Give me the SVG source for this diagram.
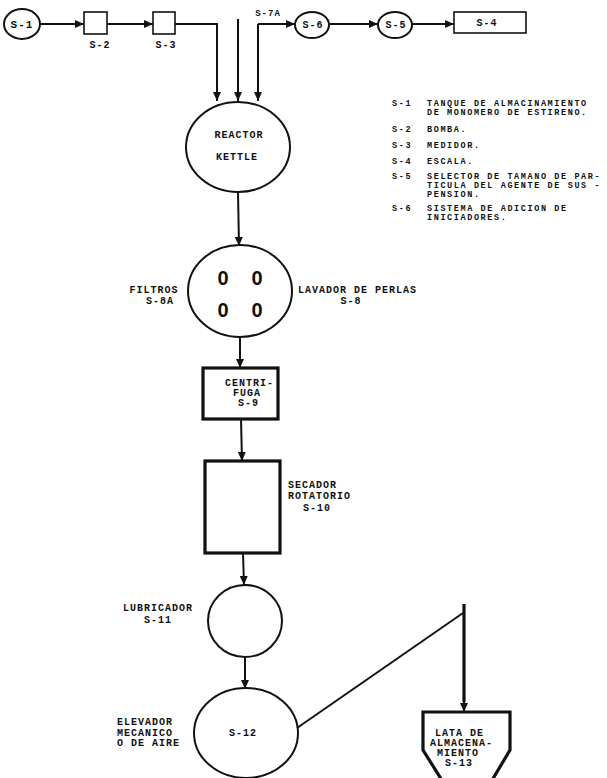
<svg xmlns="http://www.w3.org/2000/svg" width="607" height="778" viewBox="0 0 607 778">
<style>
.t{font-family:"Liberation Mono","DejaVu Sans Mono",monospace;font-weight:bold;font-size:10px;letter-spacing:1px;fill:#111}
.l{font-family:"Liberation Mono","DejaVu Sans Mono",monospace;font-weight:bold;font-size:8.5px;letter-spacing:1.6px;fill:#111}
.m{text-anchor:middle}
.c{fill:none;stroke:#111;stroke-width:2}
.b{fill:none;stroke:#111;stroke-width:1.6}
.k{fill:none;stroke:#111;stroke-width:3.2}
.n{fill:none;stroke:#111;stroke-width:2}
.z{font-family:"Liberation Sans",Arial,sans-serif;font-weight:bold;font-size:20px;fill:#111;text-anchor:middle}
</style>
<defs>
<marker id="a" markerUnits="userSpaceOnUse" markerWidth="10" markerHeight="8" refX="9" refY="4" orient="auto">
<path d="M0,0 L9,4 L0,8 Z" fill="#111"/>
</marker>
</defs>
<rect width="607" height="778" fill="#fff"/>
<g id="connectors">
<path class="n" d="M40,24 L84,24" marker-end="url(#a)"/>
<path class="n" d="M107,24 L153,24" marker-end="url(#a)"/>
<path class="n" d="M175,24 L217,24 L217,101" marker-end="url(#a)"/>
<path class="n" d="M238,19 L238,101" marker-end="url(#a)"/>
<path class="n" d="M258,24 L258,101" marker-end="url(#a)"/>
<path class="n" d="M258,24 L295,24" marker-end="url(#a)"/>
<path class="n" d="M330,24 L378,24" marker-end="url(#a)"/>
<path class="n" d="M412,24 L454,24" marker-end="url(#a)"/>
<path class="n" d="M238,192 L239,246" marker-end="url(#a)"/>
<path class="n" d="M240,337 L240,368" marker-end="url(#a)"/>
<path class="n" d="M241,419 L242,461" marker-end="url(#a)"/>
<path class="n" d="M243,553 L244,585" marker-end="url(#a)"/>
<path class="n" d="M245,656 L245,689" marker-end="url(#a)"/>
<path class="n" d="M297,728 L463,613"/>
<path class="k" d="M464,604 L464,702"/>
<path class="n" d="M464,700 L464,712" marker-end="url(#a)"/>
</g>
<g id="S-1"><ellipse class="c" cx="22" cy="24" rx="18" ry="15"/><text class="t m" x="22" y="28" style="font-size:11px">S-1</text></g>
<g id="S-2"><rect class="b" x="84" y="12" width="23" height="22"/><text class="t m" x="100" y="48">S-2</text></g>
<g id="S-3"><rect class="b" x="153" y="12" width="22" height="22"/><text class="t m" x="166" y="48">S-3</text></g>
<g id="S-7A"><text class="t m" x="268" y="16" style="font-size:9px">S-7A</text></g>
<g id="S-6"><ellipse class="c" cx="312" cy="25" rx="17" ry="13"/><text class="t m" x="313" y="28">S-6</text></g>
<g id="S-5"><ellipse class="c" cx="395" cy="25" rx="17" ry="13"/><text class="t m" x="396" y="28">S-5</text></g>
<g id="S-4"><rect class="b" x="454" y="12" width="72" height="21"/><text class="t m" x="487" y="26">S-4</text></g>
<g id="reactor"><ellipse class="c" cx="238" cy="147" rx="52" ry="45"/><text class="t m" x="239" y="138">REACTOR</text><text class="t m" x="237" y="160">KETTLE</text></g>
<g id="S-8"><ellipse class="c" cx="240" cy="291" rx="52" ry="46"/>
<text class="z" x="223" y="285">0</text><text class="z" x="257" y="285">0</text><text class="z" x="223" y="317">0</text><text class="z" x="257" y="317">0</text>
<text class="t m" x="154" y="293">FILTROS</text><text class="t m" x="160" y="304">S-8A</text>
<text class="t" x="298" y="293">LAVADOR DE PERLAS</text><text class="t m" x="351" y="304">S-8</text></g>
<g id="S-9"><rect class="k" x="203" y="368" width="75" height="51"/><text class="t" x="225" y="386">CENTRI-</text><text class="t" x="233" y="396">FUGA</text><text class="t" x="238" y="406">S-9</text></g>
<g id="S-10"><rect class="k" x="205" y="461" width="75" height="92"/><text class="t" x="288" y="488">SECADOR</text><text class="t" x="288" y="499">ROTATORIO</text><text class="t" x="303" y="511">S-10</text></g>
<g id="S-11"><ellipse class="c" cx="245" cy="621" rx="37" ry="36"/><text class="t m" x="158" y="611">LUBRICADOR</text><text class="t m" x="158" y="623">S-11</text></g>
<g id="S-12"><ellipse class="c" cx="246" cy="733" rx="52" ry="45"/><text class="t m" x="243" y="736">S-12</text>
<text class="t" x="117" y="725">ELEVADOR</text><text class="t" x="117" y="736">MECANICO</text><text class="t" x="117" y="746">O DE AIRE</text></g>
<g id="S-13"><path class="k" d="M423,712 L510,712 L510,750 L491,782 L443,782 L423,750 Z"/>
<text class="t" x="435" y="736">LATA DE</text><text class="t" x="430" y="746">ALMACENA-</text><text class="t" x="437" y="756">MIENTO</text><text class="t" x="445" y="766">S-13</text></g>
<g id="legend">
<text class="l" x="392" y="106">S-1</text><text class="l" x="427" y="106">TANQUE DE ALMACINAMIENTO</text><text class="l" x="427" y="115">DE MONOMERO DE ESTIRENO.</text>
<text class="l" x="392" y="132">S-2</text><text class="l" x="427" y="132">BOMBA.</text>
<text class="l" x="392" y="148">S-3</text><text class="l" x="427" y="148">MEDIDOR.</text>
<text class="l" x="392" y="164">S-4</text><text class="l" x="427" y="164">ESCALA.</text>
<text class="l" x="392" y="179">S-5</text><text class="l" x="427" y="179">SELECTOR DE TAMANO DE PAR-</text><text class="l" x="427" y="188">TICULA DEL AGENTE DE SUS -</text><text class="l" x="427" y="197">PENSION.</text>
<text class="l" x="392" y="211">S-6</text><text class="l" x="427" y="211">SISTEMA DE ADICION DE</text><text class="l" x="427" y="220">INICIADORES.</text>
</g>
</svg>
